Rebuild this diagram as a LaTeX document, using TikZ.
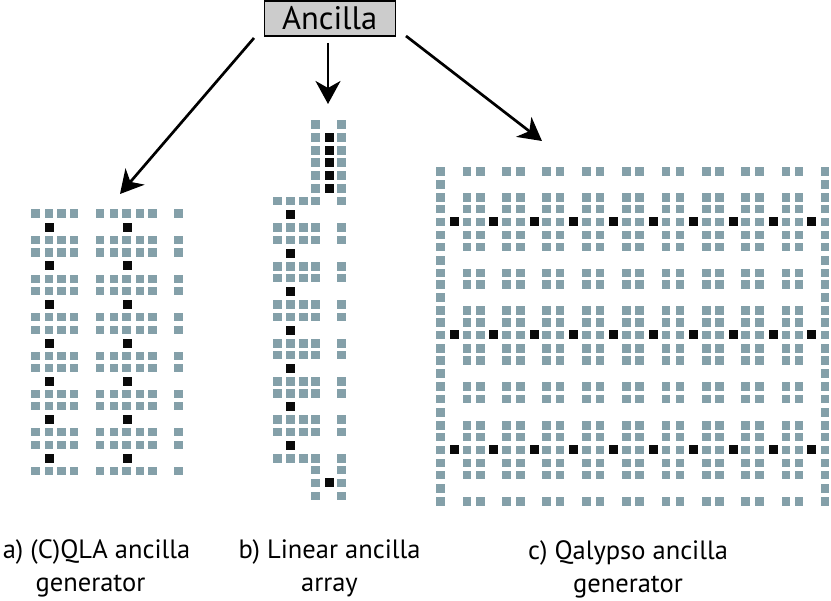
\documentclass[tikz,border=0pt]{standalone}
\usepackage{fontspec}
\setmainfont{PT Sans}
\usetikzlibrary{arrows.meta}
\definecolor{qteal}{HTML}{84A0A9}
\definecolor{qblack}{HTML}{0A0A0A}
\definecolor{boxgray}{HTML}{CCCCCC}
\tikzset{
  x=1pt,y=-1pt,
  tealcell/.style={fill=qteal},
  blackcell/.style={fill=qblack},
  pointer/.style={line width=2.7pt,-{Stealth[length=23pt,width=25pt,inset=7pt]}},
  caption/.style={font=\fontsize{26.5}{33}\selectfont,align=center,inner sep=0pt,anchor=center},
}
% teal grid: list of x, list of y
\newcommand{\tgrid}[2]{\foreach \gx in {#1}{\foreach \gy in {#2}{\fill[tealcell] (\gx-4.25,\gy-4.25) rectangle (\gx+4.25,\gy+4.25);}}}
\newcommand{\bgrid}[2]{\foreach \gx in {#1}{\foreach \gy in {#2}{\fill[blackcell] (\gx-4.5,\gy-4.5) rectangle (\gx+4.5,\gy+4.5);}}}
\begin{document}
\begin{tikzpicture}
\useasboundingbox (0,0) rectangle (831,601);
% (a)
\tgrid{35.7,49,61.7,74,100,114,126.7,140,152.3,178.3}{213.7,240,252.7,279,291,317,330,356,368,394,406,432,445,471}
\bgrid{49,127}{227.3,266,304.3,343.3,381.3,419.3,458.3}
% (b)
\tgrid{315.3,341.7}{124.7,137.7,150.7,162.3,175.3,188.7,470,483,496}
\tgrid{277.3,290.7,303.3,315.3,341.7}{201,227.3,240,266.7,278,304.3,317,343.3,355,381.7,393.3,419.3,432,458.3}
\bgrid{329}{137.7,151,163,175.3,188.7,483}
\bgrid{290.7}{214.3,253.7,291.7,330.3,368.7,406.7,445.7}
% (c)
\tgrid{440.7,825}{171.3,184.7,197.3,209,222,235,247,260.3,273,284.7,297.7,310.7,322.3,335,348.3,360.7,373.7,386.7,399,412.3,425.3,437,450,463,475,488.3,501.3}
\tgrid{467,480.3,506.7,520.7,546.7,560,586.3,600,626.7,639.7,666,680,706.3,719.3,745.7,759.7,786,799}{171.3,197.3,209,222,235,247,273,284.7,310.7,322.3,335,348.3,360.7,386.7,399,425.3,437,450,463,475,501.3}
\bgrid{454,493.7,534,573.3,613.7,653,693.3,733,773,811.7}{222,335,450}
% head
\node[draw=black,fill=boxgray,line width=1.2pt,minimum width=131pt,minimum height=35pt,inner sep=0pt,font=\fontsize{32.5}{36}\selectfont] (anc) at (329.7,18.5) {Ancilla};
\coordinate (aStart) at (254,38);
\coordinate (aEnd) at (120,194);
\coordinate (bStart) at (328,43);
\coordinate (bEnd) at (328,104);
\coordinate (cStart) at (406,36);
\coordinate (cEnd) at (542,141);
\draw[pointer] (aStart) -- (aEnd);
\draw[pointer] (bStart) -- (bEnd);
\draw[pointer] (cStart) -- (cEnd);
% captions
\node[caption] (capa) at (96.5,568.5) {a) (C)QLA ancilla\\\mbox{generator\hspace{12pt}}};
\node[caption] (capb) at (329.5,568.5) {b) Linear ancilla\\array};
\node[caption] (capc) at (628,569) {c) Qalypso ancilla\\generator};
\end{tikzpicture}
\end{document}
